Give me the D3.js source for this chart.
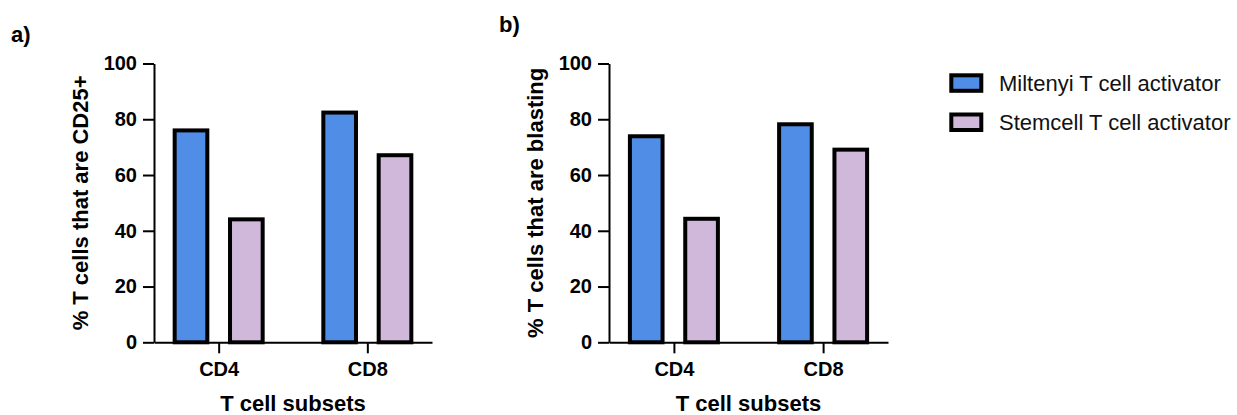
<html>
<head>
<meta charset="utf-8" />
<script src="https://d3js.org/d3.v7.min.js"></script>
<style>
  body { margin: 0; background: #fff; }
  text { font-family: "Liberation Sans", Arial, sans-serif; }
</style>
</head>
<body>
<div id="chart"></div>
<script>
// data
const categories = ["CD4", "CD8"];
const seriesNames = ["Miltenyi T cell activator", "Stemcell T cell activator"];
const seriesColors = ["#4f8de6", "#d0b8da"];
const yTicks = [0, 20, 40, 60, 80, 100];

const cd25Miltenyi = [76, 82.4];
const cd25Stemcell = [44.1, 67.1];
const blastMiltenyi = [73.9, 78.2];
const blastStemcell = [44.3, 69.1];

const svg = d3.select("#chart").append("svg")
  .attr("width", 1237).attr("height", 415);

const yTop = 63.5, yBottom = 342.3;
const y = d3.scaleLinear().domain([0, 100]).range([yBottom, yTop]);

function drawPanel(x0, x1, label, labelX, labelY, yTitle, yTitleX, values) {
  const g = svg.append("g");

  const x = d3.scalePoint().domain(categories).range([x0, x1]).padding(0.435);
  const sub = d3.scaleBand().domain(seriesNames).range([-44, 44]).paddingInner(0.41);

  // bars
  categories.forEach((c, i) => {
    seriesNames.forEach((s, j) => {
      const v = values[j][i];
      g.append("rect")
        .attr("x", x(c) + sub(s))
        .attr("y", y(v))
        .attr("width", sub.bandwidth())
        .attr("height", y(0) - y(v))
        .attr("fill", seriesColors[j])
        .attr("stroke", "#000")
        .attr("stroke-width", 4);
    });
  });

  // y axis
  const ya = g.append("g")
    .attr("transform", "translate(" + x0 + ",0)")
    .call(d3.axisLeft(y).tickValues(yTicks).tickSize(11).tickSizeOuter(0).tickPadding(6));
  ya.select(".domain").attr("stroke-width", 2);
  ya.selectAll(".tick line").attr("stroke-width", 2);
  ya.selectAll("text").attr("font-size", 20).attr("font-weight", "bold")
    .attr("font-family", "Liberation Sans, Arial, sans-serif").attr("fill", "#000");

  // x axis
  const xa = g.append("g")
    .attr("transform", "translate(0," + yBottom + ")")
    .call(d3.axisBottom(x).tickSize(11).tickSizeOuter(0).tickPadding(9));
  xa.select(".domain").attr("stroke-width", 2);
  xa.selectAll(".tick line").attr("stroke-width", 2);
  xa.selectAll("text").attr("font-size", 20).attr("font-weight", "bold")
    .attr("font-family", "Liberation Sans, Arial, sans-serif").attr("fill", "#000");

  // titles
  g.append("text")
    .attr("x", (x0 + x1) / 2).attr("y", 410.5)
    .attr("text-anchor", "middle")
    .attr("font-size", 22).attr("font-weight", "bold")
    .text("T cell subsets");

  g.append("text")
    .attr("transform", "translate(" + yTitleX + "," + (yTop + yBottom) / 2 + ") rotate(-90)")
    .attr("text-anchor", "middle")
    .attr("font-size", 22).attr("font-weight", "bold")
    .text(yTitle);

  g.append("text")
    .attr("x", labelX).attr("y", labelY)
    .attr("font-size", 22).attr("font-weight", "bold")
    .text(label);
}

drawPanel(154, 432, "a)", 11, 41.5, "% T cells that are CD25+", 88, [cd25Miltenyi, cd25Stemcell]);
drawPanel(609, 888, "b)", 499, 31.7, "% T cells that are blasting", 543, [blastMiltenyi, blastStemcell]);

// legend
const legend = svg.append("g");
seriesNames.forEach((s, j) => {
  const ly = 75.3 + j * 39.2;
  legend.append("rect")
    .attr("x", 951.3).attr("y", ly)
    .attr("width", 30).attr("height", 15.5)
    .attr("fill", seriesColors[j])
    .attr("stroke", "#000").attr("stroke-width", 4);
  legend.append("text")
    .attr("x", 999).attr("y", ly + 15.7)
    .attr("font-size", 22)
    .attr("fill", "#111")
    .text(s);
});
</script>
</body>
</html>
